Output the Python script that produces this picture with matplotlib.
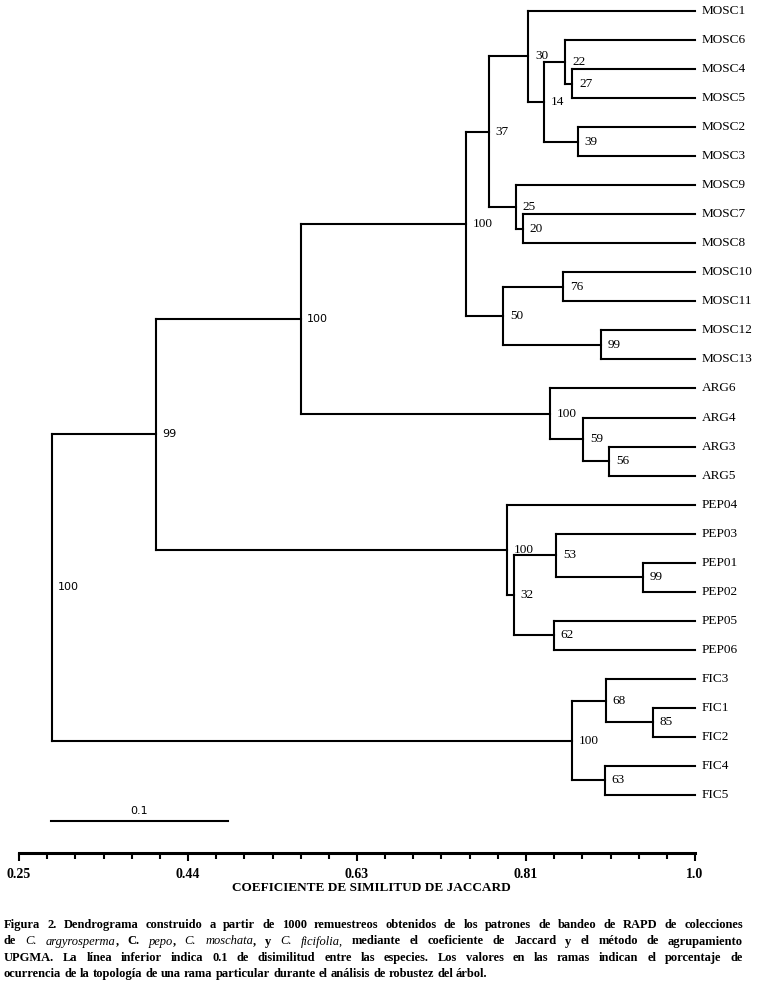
import matplotlib
matplotlib.use("Agg")
import matplotlib.pyplot as plt

## Leaves, top to bottom
leaves = ["MOSC1", "MOSC6", "MOSC4", "MOSC5", "MOSC2", "MOSC3", "MOSC9",
          "MOSC7", "MOSC8", "MOSC10", "MOSC11", "MOSC12", "MOSC13",
          "ARG6", "ARG4", "ARG3", "ARG5",
          "PEP04", "PEP03", "PEP01", "PEP02", "PEP05", "PEP06",
          "FIC3", "FIC1", "FIC2", "FIC4", "FIC5"]

## UPGMA merges (node, left child, right child, similarity, bootstrap)
node_names = ["n27", "n22", "n39", "n14", "n30", "n20", "n25", "n37",
              "n76", "n99a", "n50", "n100a", "n56", "n59", "n100b", "n100c",
              "n99b", "n53", "n62", "n32", "n100d", "n99c",
              "n85", "n68", "n63", "n100e", "root"]
left_child = ["MOSC4", "MOSC6", "MOSC2", "n22", "MOSC1", "MOSC7", "MOSC9", "n30",
              "MOSC10", "MOSC12", "n76", "n37", "ARG3", "ARG4", "ARG6", "n100a",
              "PEP01", "PEP03", "PEP05", "n53", "PEP04", "n100c",
              "FIC1", "FIC3", "FIC4", "n68", "n99c"]
right_child = ["MOSC5", "n27", "MOSC3", "n39", "n14", "MOSC8", "n20", "n25",
               "MOSC11", "MOSC13", "n99a", "n50", "ARG5", "n56", "n59", "n100b",
               "PEP02", "n99b", "PEP06", "n62", "n32", "n100d",
               "FIC2", "n85", "FIC5", "n63", "n100e"]
node_sim = [0.864, 0.856, 0.870, 0.8325, 0.815, 0.809, 0.801, 0.771,
            0.8536, 0.896, 0.787, 0.746, 0.905, 0.876, 0.839, 0.563,
            0.942, 0.846, 0.8436, 0.799, 0.7914, 0.402,
            0.9534, 0.9013, 0.9002, 0.8636, 0.2866]
node_support = [27, 22, 39, 14, 30, 20, 25, 37,
                76, 99, 50, 100, 56, 59, 100, 100,
                99, 53, 62, 32, 100, 99,
                85, 68, 63, 100, 100]

## axis
major_ticks = [0.25, 0.4375, 0.625, 0.8125, 1.0]
major_labels = ["0.25", "0.44", "0.63", "0.81", "1.0"]
minor_step = 0.03125
xlabel = "COEFICIENTE DE SIMILITUD DE JACCARD"

## scale bar
bar_start = 0.2855
bar_len = 0.1965
bar_label = "0.1"

caption_lines = [
    "Figura 2. Dendrograma construido a partir de 1000 remuestreos obtenidos de los patrones de bandeo de RAPD de colecciones",
    "de _C._ _argyrosperma_, C. _pepo_, _C._ _moschata_, y _C._ _ficifolia,_ mediante el coeficiente de Jaccard y el método de agrupamiento",
    "UPGMA. La línea inferior indica 0.1 de disimilitud entre las especies. Los valores en las ramas indican el porcentaje de",
    "ocurrencia de la topología de una rama particular durante el análisis de robustez del árbol.",
]

W, H = 762, 984
fig = plt.figure(figsize=(W / 100, H / 100), dpi=100)
top_px, axis_px, left_px, right_px = 11, 853, 19, 695
ax = fig.add_axes([left_px / W, 1 - axis_px / H, (right_px - left_px) / W, (axis_px - top_px) / H])
step = (795 - 11) / 27.0
ax.set_xlim(0.25, 1.0)
ax.set_ylim((axis_px - top_px) / step, 0)

lw = 1.5
pos = {name: i for i, name in enumerate(leaves)}
xpos = {name: 1.0 for name in leaves}
for n, l, r, s, sup in zip(node_names, left_child, right_child, node_sim, node_support):
    ax.plot([s, s], [pos[l], pos[r]], color="black", lw=lw, clip_on=False)
    for c in (l, r):
        ax.plot([s, xpos[c]], [pos[c], pos[c]], color="black", lw=lw, clip_on=False)
    pos[n] = (pos[l] + pos[r]) / 2
    xpos[n] = s
    if s < 0.6:
        ax.text(s + 0.0068, pos[n], str(sup), family="DejaVu Sans", size=8,
                ha="left", va="center")
    else:
        ax.text(s + 0.0075, pos[n], str(sup), family="Liberation Serif", size=9.5,
                ha="left", va="center")

for name in leaves:
    ax.text(1.0 + 0.0078, pos[name], name, family="Liberation Serif", size=9.5,
            ha="left", va="center", clip_on=False)

# scale bar
bar_y = (821 - top_px) / step
ax.plot([bar_start, bar_start + bar_len], [bar_y, bar_y], color="black", lw=lw, clip_on=False)
ax.text(bar_start + bar_len / 2, bar_y - 0.36, bar_label, family="DejaVu Sans", size=8,
        ha="center", va="center")

for sp in ["left", "top", "right"]:
    ax.spines[sp].set_visible(False)
ax.spines["bottom"].set_linewidth(2.2)
ax.set_yticks([])
ax.set_xticks(major_ticks)
ax.set_xticklabels(major_labels, family="Liberation Serif", weight="bold", size=10)
minors = [0.25 + i * minor_step for i in range(25)]
ax.set_xticks(minors, minor=True)
ax.tick_params(axis="x", which="major", direction="out", length=6, width=1.5, pad=4.5)
ax.tick_params(axis="x", which="minor", direction="out", length=4.5, width=1.5)
ax.set_xlabel(xlabel, family="Liberation Serif", weight="bold", size=9.5, labelpad=2)
ax.xaxis.set_label_coords((371.5 - left_px) / (right_px - left_px), -(888 - axis_px) / (axis_px - top_px))
ax.xaxis.label.set_va("center")

## caption, justified
renderer = fig.canvas.get_renderer()
cap_left, cap_right = 4, 743
baselines = [928, 944.5, 961, 977]


def props(italic):
    return dict(family="Liberation Serif", size=9,
                weight="normal" if italic else "bold",
                style="italic" if italic else "normal")


def text_width(txt, italic):
    if not txt:
        return 0.0
    t = fig.text(0, 0, txt, **props(italic))
    w = t.get_window_extent(renderer).width
    t.remove()
    return w


space_w = text_width("a b", False) - text_width("ab", False)
for li, line in enumerate(caption_lines):
    words = []
    for w in line.split(" "):
        parts = w.split("_")
        runs = [(p, k % 2 == 1) for k, p in enumerate(parts) if p]
        words.append(runs)
    widths = [sum(text_width(t, it) for t, it in runs) for runs in words]
    if li < len(caption_lines) - 1:
        gap = (cap_right - cap_left - sum(widths)) / (len(words) - 1)
    else:
        gap = space_w
    x = cap_left
    for runs, ww in zip(words, widths):
        xr = x
        for t, it in runs:
            fig.text(xr / W, 1 - baselines[li] / H, t, ha="left", va="baseline", **props(it))
            xr += text_width(t, it)
        x += ww + gap

fig.savefig("out.png", dpi=100)
